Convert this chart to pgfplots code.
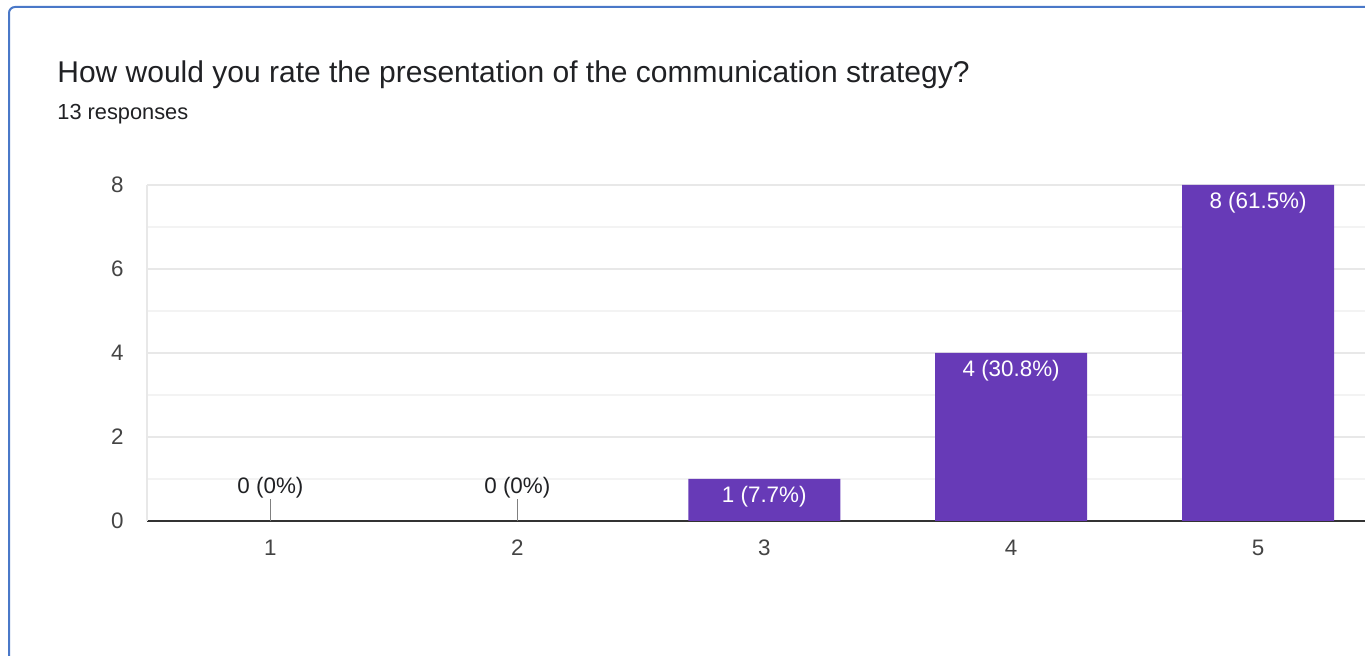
\documentclass[border=0pt]{standalone}
\usepackage{fontspec}
\setmainfont{Liberation Sans}
\usepackage{pgfplots}
\pgfplotsset{compat=1.18}
\definecolor{barpurple}{HTML}{673AB7}
\definecolor{frameblue}{HTML}{4A78C8}
\definecolor{gridgray}{HTML}{E8E8E8}
\definecolor{minorgray}{HTML}{F3F3F3}
\definecolor{axisdark}{HTML}{333333}
\definecolor{txt}{HTML}{202124}
\definecolor{ticktxt}{HTML}{444444}
\begin{document}
\begin{tikzpicture}
\useasboundingbox (0,0) rectangle (682.5pt,328pt);
\clip (0,0) rectangle (682.5pt,328pt);
% card frame, cut off right and bottom
\draw[frameblue, line width=1pt, rounded corners=3pt] (4.5pt,-10pt) rectangle (700pt,324.5pt);
\node[anchor=base west, inner sep=0pt, text=txt, font=\fontsize{15}{17}\selectfont]
  at (28.5pt,286.5pt) {How would you rate the presentation of the communication strategy?};
\node[anchor=base west, inner sep=0pt, text=txt, font=\fontsize{10.9}{13}\selectfont]
  at (28.5pt,268pt) {13 responses};
\begin{axis}[
    at={(73.5pt,67.5pt)}, anchor=south west,
    scale only axis,
    width=617.25pt, height=168pt,
    xmin=0.5, xmax=5.5,
    ymin=0, ymax=8,
    ybar,
    bar width=76pt,
    xtick={1,2,3,4,5},
    ytick={0,2,4,6,8},
    minor ytick={1,3,5,7},
    ymajorgrids, yminorgrids,
    major grid style={draw=gridgray, line width=0.75pt},
    minor grid style={draw=minorgray, line width=0.75pt},
    axis x line=bottom,
    axis y line=left,
    x axis line style={draw=axisdark, line width=1pt, -},
    y axis line style={draw=gridgray, line width=0.75pt, -},
    major tick length=0pt, minor tick length=0pt,
    tick style={draw=none},
    /pgf/number format/assume math mode=true,
    xticklabel style={anchor=center, yshift=-13.5pt, inner sep=0pt,
      text=ticktxt, font=\fontsize{11.2}{13}\selectfont},
    yticklabel style={anchor=east, xshift=-11.5pt, inner sep=0pt,
      text=ticktxt, font=\fontsize{11.2}{13}\selectfont},
  ]
  % answers with responses
  \addplot[
    fill=barpurple, draw=none, bar shift=0pt,
    point meta=explicit symbolic,
    nodes near coords={\pgfplotspointmeta},
    every node near coord/.append style={anchor=base, yshift=-12pt,
      text=white, inner sep=0pt, font=\fontsize{11.2}{13}\selectfont},
  ] coordinates {
    (3,1) [1 (7.7\%)]
    (4,4) [4 (30.8\%)]
    (5,8) [8 (61.5\%)]
  };
  % answers with no responses
  \addplot[
    draw=none, fill=none, bar shift=0pt,
    nodes near coords={},
    every node near coord/.style={inner sep=0pt, minimum size=0pt, anchor=center,
      pin={[pin distance=11pt, pin edge={draw=gray, line width=0.6pt},
        inner sep=0pt, text=txt,
        font=\fontsize{11.2}{13}\selectfont]90:0 (0\%)}},
  ] coordinates {(1,0) (2,0)};
\end{axis}
\end{tikzpicture}
\end{document}
